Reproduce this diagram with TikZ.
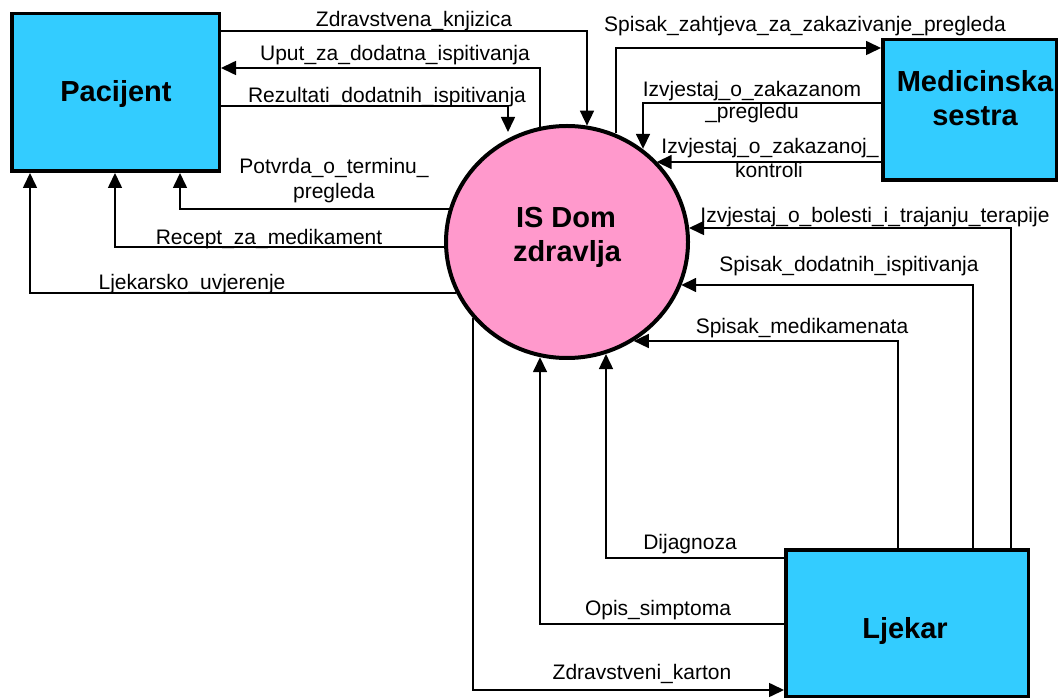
\documentclass[tikz,border=0pt]{standalone}
\usepackage{fontspec}
\setmainfont{Liberation Sans}
\usetikzlibrary{arrows.meta,shapes.geometric}
\definecolor{cyanbox}{RGB}{51,204,255}
\definecolor{pinkc}{RGB}{255,153,204}
\tikzset{
  lbl/.style={font=\fontsize{21}{24}\selectfont, anchor=base, inner sep=0pt},
  big/.style={font=\bfseries\fontsize{29}{34}\selectfont, anchor=base, inner sep=0pt},
  flow/.style={line width=1.6pt, -{Triangle[length=15pt,width=14pt]}},
  ent/.style={draw, line width=3.5pt, fill=cyanbox, rectangle, inner sep=0pt},
  proc/.style={draw, line width=4pt, fill=pinkc, ellipse, inner sep=0pt}
}
\begin{document}
\begin{tikzpicture}[x=1pt,y=-1pt]
\useasboundingbox (0,0) rectangle (1060,700);
% entities
\node[ent, minimum width=207.5pt, minimum height=157.5pt] (pac) at (115.5,92.5) {};
\node[ent, minimum width=173.5pt, minimum height=140.5pt] (ses) at (969.5,110) {};
\node[ent, minimum width=242.5pt, minimum height=146.5pt] (ljk) at (907,623) {};
\node[proc, minimum width=242pt, minimum height=232pt] (is) at (567,242) {};
% entity labels
\node[big] (pacT) at (116,102) {Pacijent};
\node[big] (sesT1) at (975,92) {Medicinska};
\node[big] (sesT2) at (975,126) {sestra};
\node[big] (ljkT) at (905,638) {Ljekar};
\node[big] (isT1) at (566,228) {IS Dom};
\node[big] (isT2) at (567,262) {zdravlja};
% free end
\coordinate (rezEnd) at (508,132);
% flows Pacijent
\draw[flow] (pac.east |- 0,31) -| (587,0 |- is.80);
\draw[flow] (540,0 |- is.103) |- (pac.east |- 0,68);
\draw[flow] (pac.east |- 0,106) -| (rezEnd);
\draw[flow] (is.164 |- 0,209) -| (180,0 |- pac.south);
\draw[flow] (is.182 |- 0,247) -| (115,0 |- pac.south);
\draw[flow] (is.205 |- 0,293) -| (30,0 |- pac.south);
% flows Medicinska sestra
\draw[flow] (616,0 |- is.66) |- (ses.west |- 0,48);
\draw[flow] (ses.west |- 0,103) -| (643,0 |- is.51);
\draw[flow] (ses.west |- 0,162) -- (is.42 |- 0,162);
% flows Ljekar
\draw[flow] (1011,0 |- ljk.north) |- (is.7 |- 0,228);
\draw[flow] (973,0 |- ljk.north) |- (is.339 |- 0,285);
\draw[flow] (898,0 |- ljk.north) |- (is.304 |- 0,341);
\draw[flow] (ljk.west |- 0,558) -| (606,0 |- is.289);
\draw[flow] (ljk.west |- 0,624) -| (540,0 |- is.257);
\draw[flow] (473,0 |- is.219) |- (ljk.west |- 0,690);
% flow labels
\node[lbl] (l1) at (414,27) {Zdravstvena\_knjizica};
\node[lbl] (l2) at (395,61) {Uput\_za\_dodatna\_ispitivanja};
\node[lbl] (l3) at (387,103) {Rezultati\_dodatnih\_ispitivanja};
\node[lbl] (l4a) at (334,174) {Potvrda\_o\_terminu\_};
\node[lbl] (l4b) at (334,199) {pregleda};
\node[lbl] (l5) at (269,245) {Recept\_za\_medikament};
\node[lbl] (l6) at (192,290) {Ljekarsko\_uvjerenje};
\node[lbl] (l7) at (805,32) {Spisak\_zahtjeva\_za\_zakazivanje\_pregleda};
\node[lbl] (l8a) at (752,97) {Izvjestaj\_o\_zakazanom};
\node[lbl] (l8b) at (752,119) {\_pregledu};
\node[lbl] (l9a) at (770,154) {Izvjestaj\_o\_zakazanoj\_};
\node[lbl] (l9b) at (769,178) {kontroli};
\node[lbl] (l10) at (875,223) {Izvjestaj\_o\_bolesti\_i\_trajanju\_terapije};
\node[lbl] (l11) at (849,272) {Spisak\_dodatnih\_ispitivanja};
\node[lbl] (l12) at (802,334) {Spisak\_medikamenata};
\node[lbl] (l13) at (690,549) {Dijagnoza};
\node[lbl] (l14) at (658,615) {Opis\_simptoma};
\node[lbl] (l15) at (642,679) {Zdravstveni\_karton};
\end{tikzpicture}
\end{document}
